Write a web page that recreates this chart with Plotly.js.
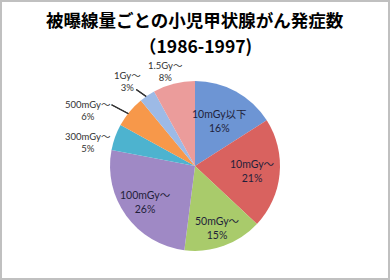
<!DOCTYPE html>
<html><head><meta charset="utf-8">
<script src="https://cdn.plot.ly/plotly-3.0.1.min.js"></script>
<style>
html,body{margin:0;padding:0;background:#fff;}
#wrap{position:relative;width:390px;height:280px;}
#chart{width:390px;height:280px;}
#frame{position:absolute;left:0;top:0;width:390px;height:280px;box-sizing:border-box;border:2px solid #c0c0c0;pointer-events:none;}
</style></head>
<body>
<div id="wrap"><div id="chart"></div><div id="frame"></div></div>
<script>
const titleLine1 = "被曝線量ごとの小児甲状腺がん発症数";
const titleLine2 = "（1986-1997)";
const labels = ["10mGy以下","10mGy〜","50mGy〜","100mGy〜","300mGy〜","500mGy〜","1Gy〜","1.5Gy〜"];
const values = [16,21,15,26,5,6,3,8];
const colors = ["#6d95d4","#d9625f","#a9cb6b","#9f89c5","#4db3cf","#f7984a","#9dbae6","#eb9c9b"];

const W = 390, H = 280;
const inFont = {family:'Lato, Noto Sans CJK JP, sans-serif', size:10.5, color:'#1f1f3a'};
const outFont = {family:'Lato, Noto Sans CJK JP, sans-serif', size:9.5, color:'#333'};
// label placement per slice (layout only): inside labels at a fraction of the radius,
// outside labels offset (px) from the slice's outer edge, optional leader line
const labelLayout = {
  0: {inside:0.60},
  1: {inside:0.68},
  2: {inside:0.78},
  3: {inside:0.72},
  4: {dx:-27, dy:5},
  5: {dx:-42, dy:-1,  line:[-18,-7,-1,2]},
  6: {dx:-20, dy:-14, line:[-11,-6,-1,1]},
  7: {dx:-8,  dy:-12}
};

const pieTrace = {
  type:'pie', labels:labels, values:values, sort:false, direction:'clockwise', rotation:0,
  marker:{colors:colors, line:{color:'#ffffff', width:0}},
  textinfo:'none',
  domain:{x:[0.282,0.718], y:[0.104,0.711]},
  hoverinfo:'none', showlegend:false
};
const titleFont = {family:'Noto Sans CJK JP, sans-serif', size:17.5, color:'#000', weight:'bold'};
const hiddenAxis = {visible:false, showgrid:false, zeroline:false, fixedrange:true, domain:[0,1]};
const layout = {
  width:W, height:H, margin:{l:0,r:0,t:0,b:0},
  paper_bgcolor:'#fff', plot_bgcolor:'rgba(0,0,0,0)',
  xaxis:Object.assign({range:[0,W]}, hiddenAxis),
  yaxis:Object.assign({range:[H,0]}, hiddenAxis),
  annotations:[
    {text:titleLine1, xref:'paper', yref:'paper', x:0.5, y:0.929, xanchor:'center', yanchor:'middle', showarrow:false, font:titleFont},
    {text:titleLine2, xref:'paper', yref:'paper', x:0.5, y:0.836, xanchor:'center', yanchor:'middle', showarrow:false, font:titleFont}
  ],
  showlegend:false
};
const gd = document.getElementById('chart');
Plotly.newPlot(gd,[pieTrace],layout,{staticPlot:true}).then(function(){
  const cd = gd.calcdata[0];
  const cd0 = cd[0];
  const total = values.reduce((a,b)=>a+b,0);
  const extra = [];
  const shapes = [];
  const lx = [], ly = [];
  cd.forEach(function(pt){
    const i = pt.i;
    const o = labelLayout[i];
    if (!o) return;
    const txt = labels[i] + '<br>' + Math.round(values[i]/total*100) + '%';
    if (o.inside) {
      const px = cd0.cx + pt.pxmid[0]*o.inside;
      const py = cd0.cy + pt.pxmid[1]*o.inside;
      extra.push({text:txt, xref:'paper', yref:'paper', x:px/W, y:1-py/H,
        xanchor:'center', yanchor:'middle', showarrow:false, font:inFont});
      return;
    }
    const px = cd0.cx + pt.pxmid[0];
    const py = cd0.cy + pt.pxmid[1];
    extra.push({text:txt, xref:'paper', yref:'paper', x:px/W, y:1-py/H,
      xanchor:'center', yanchor:'middle', xshift:o.dx, yshift:-o.dy, showarrow:false, font:outFont});
    if (o.line) {
      lx.push(px+o.line[0], px+o.line[2], null);
      ly.push(py+o.line[1], py+o.line[3], null);
      shapes.push({type:'line', xref:'paper', yref:'paper', layer:'above',
        x0:(px+o.line[0])/W, y0:1-(py+o.line[1])/H, x1:(px+o.line[2])/W, y1:1-(py+o.line[3])/H,
        line:{color:'#333333', width:1.2}});
    }
  });
  const lineTrace = {type:'scatter', mode:'lines', x:lx, y:ly, xaxis:'x', yaxis:'y',
    line:{color:'#333333', width:1.2}, hoverinfo:'skip', showlegend:false, connectgaps:false};
  const newLayout = Object.assign({}, layout, {annotations: layout.annotations.concat(extra), shapes: shapes});
  return Plotly.react(gd, [pieTrace, lineTrace], newLayout, {staticPlot:true});
});
</script>
</body></html>
